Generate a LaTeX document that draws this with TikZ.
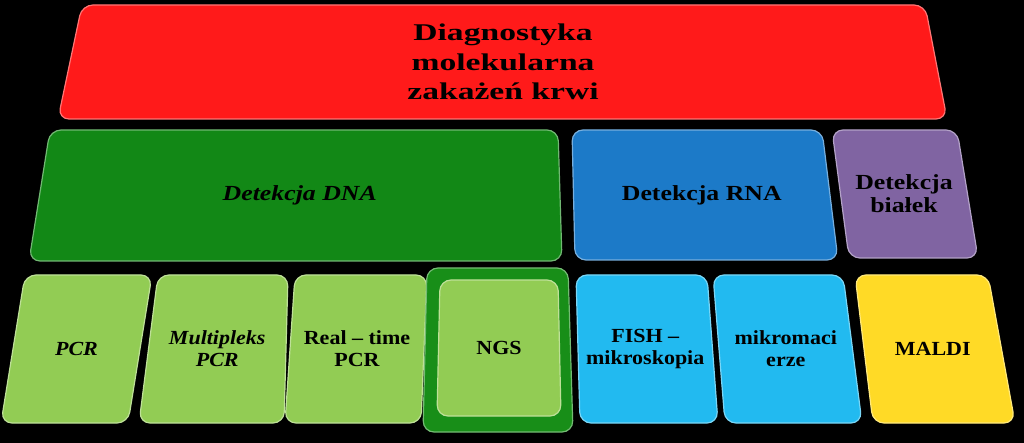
\documentclass[tikz,border=0pt]{standalone}
\usepackage{fontspec}
\setmainfont{Liberation Serif}
\newfontfamily\titlefont{Liberation Serif}[FakeStretch=1.4]
\newfontfamily\midfont{Liberation Serif}[FakeStretch=1.2]
\newfontfamily\boxfont{Liberation Serif}[FakeStretch=1.1]

\definecolor{tred}{RGB}{255,26,26}
\definecolor{tgreen}{RGB}{18,136,22}
\definecolor{tblue}{RGB}{28,122,200}
\definecolor{tpurple}{RGB}{128,100,162}
\definecolor{tlime}{RGB}{146,204,84}
\definecolor{tcyan}{RGB}{34,186,240}
\definecolor{tyellow}{RGB}{255,218,38}
\definecolor{tdark}{RGB}{24,142,24}

\tikzset{
  tile/.style={fill=#1, draw=#1!60!white, line width=1.2pt, rounded corners=11pt},
  toplbl/.style={align=center, font=\titlefont\bfseries\fontsize{24}{29.5}\selectfont},
  midlbl/.style={align=center, font=\midfont\bfseries\fontsize{21.5}{23}\selectfont},
  lowlbl/.style={align=center, font=\boxfont\bfseries\fontsize{20}{22}\selectfont},
  itlbl/.style={align=center, font=\boxfont\bfseries\itshape\fontsize{20}{22}\selectfont},
}

% name, top-left x, top-right x, bottom-right x, bottom-left x, top y, bottom y, colour
\newcommand{\tileshape}[8]{%
  \draw[tile=#8] (#2,#6) -- (#3,#6) -- (#4,#7) -- (#5,#7) -- cycle;
  \coordinate (#1-c) at ({(#2+#3+#4+#5)/4},{(#6+#7)/2});
}

\begin{document}
\begin{tikzpicture}[x=1pt,y=-1pt]
  \fill[black] (0,0) rectangle (1024,443); % background
  \useasboundingbox (0,0) rectangle (1024,443);

  % top row
  \tileshape{diag}{82}{925}{947}{58}{5}{119}{tred}
  \node[toplbl] (diag) at (diag-c) {Diagnostyka\\molekularna\\zakażeń krwi};

  % middle row
  \tileshape{dna}{50}{558}{562}{29}{130}{261}{tgreen}
  \node[midlbl, font=\midfont\bfseries\itshape\fontsize{21.5}{23}\selectfont] (dna) at (dna-c) {Detekcja DNA};
  \tileshape{rna}{572}{822}{838}{575}{130}{260}{tblue}
  \node[midlbl] (rna) at (rna-c) {Detekcja RNA};
  \tileshape{bialka}{832}{957}{978}{849}{130}{258}{tpurple}
  \node[midlbl] (bialka) at (bialka-c) {Detekcja\\białek};

  % bottom row
  \tileshape{pcr}{25}{152}{128}{1}{275}{423}{tlime}
  \node[itlbl] (pcr) at (pcr-c) {PCR};
  \tileshape{mpcr}{158}{288}{284}{139}{275}{423}{tlime}
  \node[itlbl] (mpcr) at (mpcr-c) {Multipleks\\PCR};
  \tileshape{rtpcr}{295}{427}{421}{285}{275}{423}{tlime}
  \node[lowlbl] (rtpcr) at (rtpcr-c) {Real – time\\PCR};
  \tileshape{ngsrim}{427}{568}{573}{423}{268}{432}{tdark}
  \tileshape{ngs}{440}{558}{561}{437}{280}{416}{tlime}
  \node[lowlbl] (ngs) at (ngs-c) {NGS};
  \tileshape{fish}{576}{707}{718}{580}{275}{423}{tcyan}
  \node[lowlbl] (fish) at (fish-c) {FISH –\\mikroskopia};
  \tileshape{macierze}{713}{843}{862}{725}{275}{423}{tcyan}
  \node[lowlbl] (macierze) at (macierze-c) {mikromaci\\erze};
  \tileshape{maldi}{855}{988}{1015}{873}{275}{423}{tyellow}
  \node[lowlbl] (maldi) at (maldi-c) {MALDI};
\end{tikzpicture}
\end{document}
